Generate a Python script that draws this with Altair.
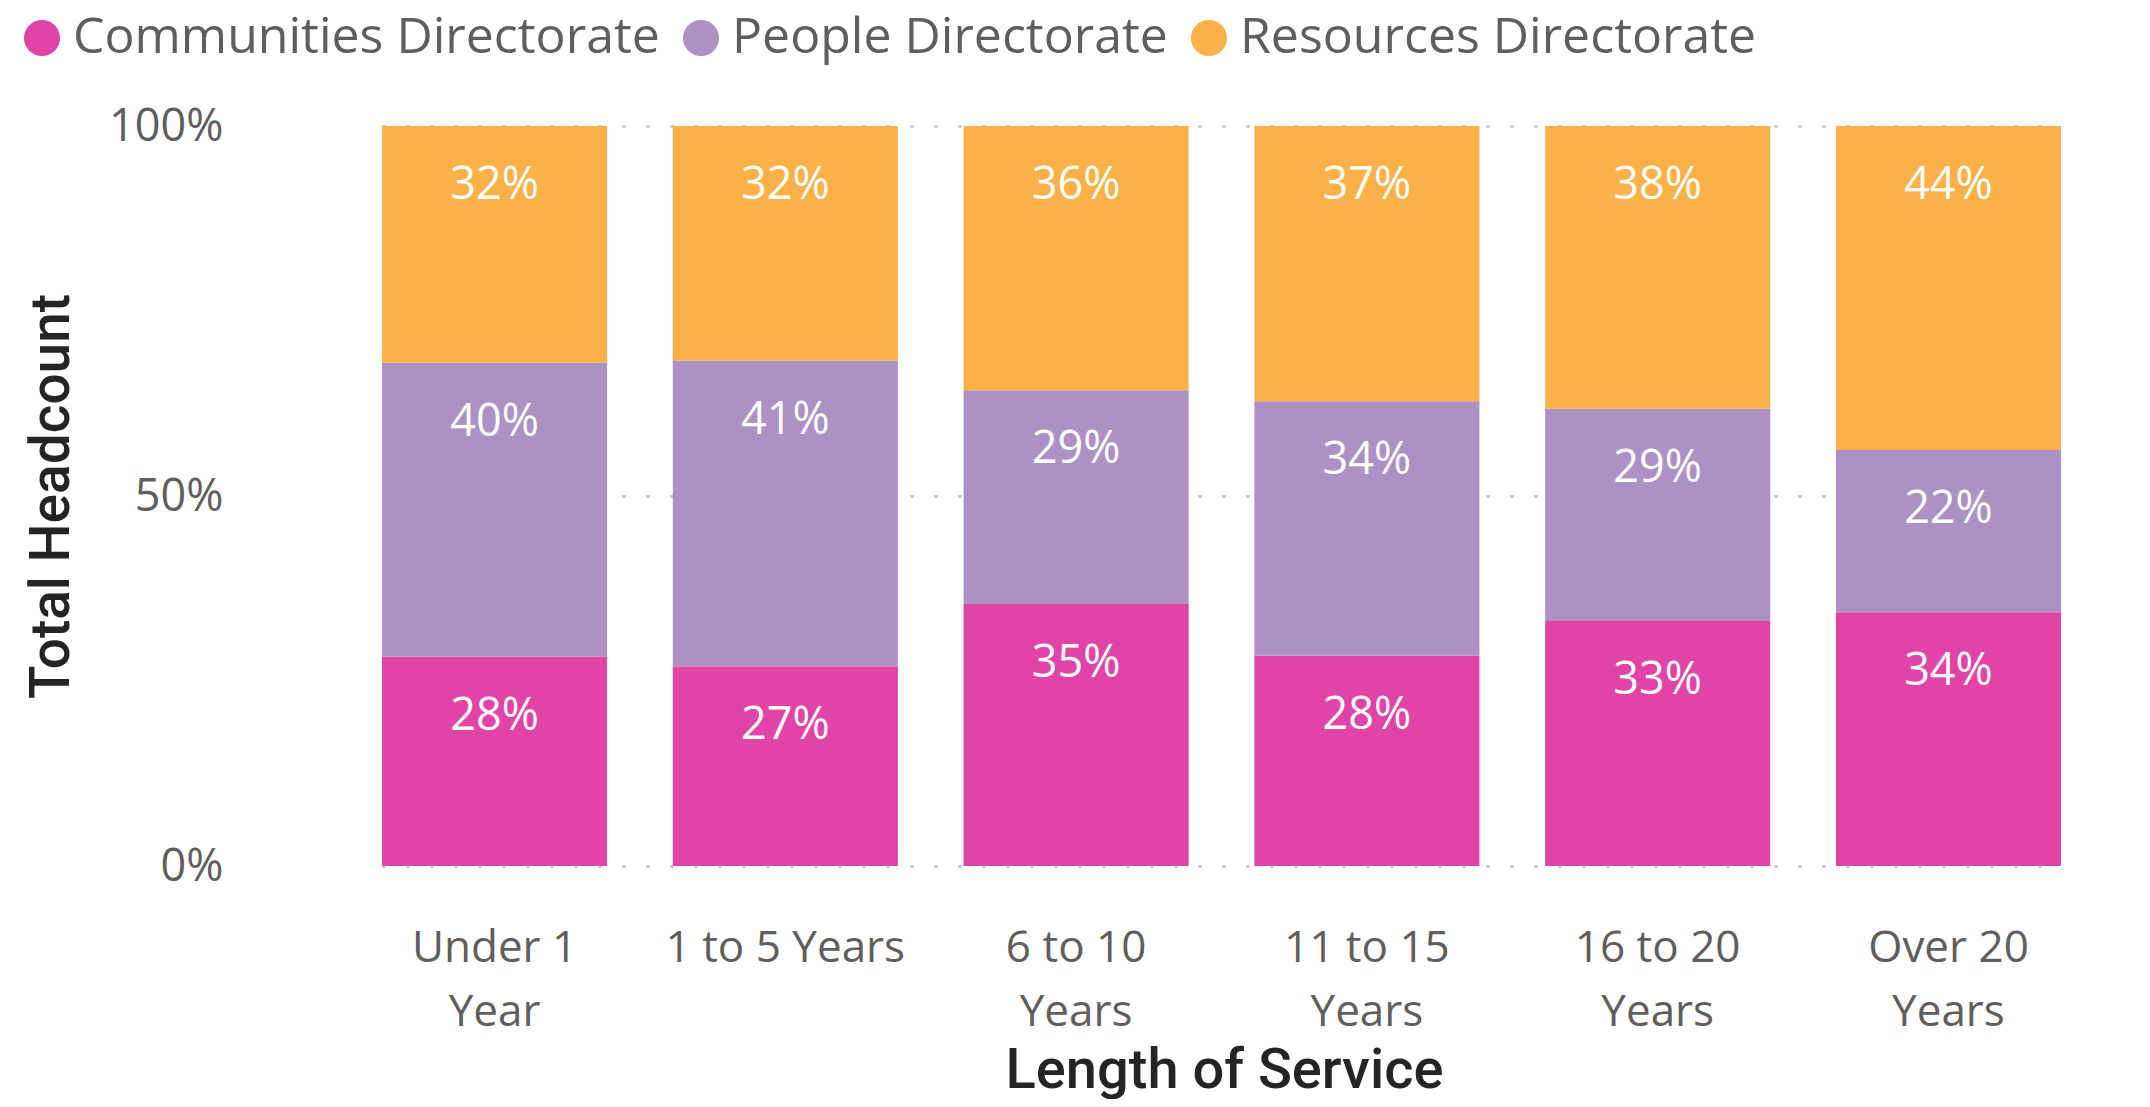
import altair as alt
import pandas as pd

categories = ["Under 1 Year", "1 to 5 Years", "6 to 10 Years", "11 to 15 Years", "16 to 20 Years", "Over 20 Years"]
label_lines = [["Under 1", "Year"], ["1 to 5 Years"], ["6 to 10", "Years"], ["11 to 15", "Years"], ["16 to 20", "Years"], ["Over 20", "Years"]]
series = ["Communities Directorate", "People Directorate", "Resources Directorate"]
colors = ["#E044A7", "#AD90C4", "#FBB147"]
communities = [28.3, 27.0, 35.4, 28.4, 33.1, 34.3]
people = [39.7, 41.3, 28.9, 34.4, 28.7, 21.9]
resources = [32.0, 31.7, 35.7, 37.2, 38.2, 43.8]

rows = []
for si, (name, vals) in enumerate(zip(series, [communities, people, resources])):
    for c, v in zip(categories, vals):
        rows.append({"cat": c, "series": name, "order": si, "value": v})
df = pd.DataFrame(rows)

label_expr = ""
for c, lines in zip(categories, label_lines):
    arr = "[" + ",".join("'" + l + "'" for l in lines) + "]"
    label_expr += f"datum.label == '{c}' ? {arr} : "
label_expr += "datum.label"

FONT = "Open Sans"
TITLE_FONT = "Roboto"

base = alt.Chart(df).transform_stack(
    stack="value", groupby=["cat"], as_=["v0", "v1"], offset="normalize",
    sort=[alt.SortField("order", order="ascending")]
)

x_enc = alt.X("cat:N", sort=categories,
              scale=alt.Scale(range=[119, 1798], paddingInner=0.226, paddingOuter=0),
              axis=alt.Axis(title="Length of Service", labelExpr=label_expr, labelAngle=0,
                            labelFont=FONT, labelFontSize=44, labelColor="#605E5C",
                            labelLineHeight=64, labelPadding=60, labelLimit=1000,
                            ticks=False, domain=False,
                            titleFont=TITLE_FONT, titleFontSize=56, titleFontWeight=500,
                            titleColor="#252423", titlePadding=9, titleX=961))

bars = base.mark_bar().encode(
    x=x_enc,
    y=alt.Y("v0:Q", scale=alt.Scale(domain=[0, 1]),
            axis=alt.Axis(title="Total Headcount", values=[0, 0.5, 1], format=".0%",
                          labelFont=FONT, labelFontSize=45, labelColor="#605E5C",
                          labelPadding=40, ticks=False, domain=False,
                          gridDash=[3, 21], gridColor="#C8C6C4", gridWidth=3,
                          titleFont=TITLE_FONT, titleFontSize=55, titleFontWeight=500,
                          titleColor="#252423", titlePadding=28)),
    y2="v1:Q",
    color=alt.Color("series:N", sort=series, scale=alt.Scale(domain=series, range=colors),
                    legend=alt.Legend(title=None, orient="none", legendX=-246, legendY=-113,
                                      direction="horizontal", symbolType="circle", symbolSize=1300,
                                      labelFont=FONT, labelFontSize=50, labelColor="#605E5C",
                                      labelLimit=1000, labelOffset=6, columnPadding=16,
                                      symbolStrokeWidth=0)),
)

text = base.transform_calculate(
    pct="datum.v1 - datum.v0"
).mark_text(color="white", font=FONT, fontSize=45, baseline="middle", dy=59).encode(
    x=alt.X("cat:N", sort=categories),
    y=alt.Y("v1:Q"),
    text=alt.Text("pct:Q", format=".0%"),
)

chart = alt.layer(bars, text).properties(
    width=1876, height=740,
    autosize=alt.AutoSizeParams(type="none"),
    padding={"left": 255, "top": 118, "right": 0, "bottom": 233},
).configure_view(stroke=None).configure_axis(grid=True).configure_axisX(grid=False)

chart.save("out.html", embed_options={"renderer": "svg", "actions": False})
